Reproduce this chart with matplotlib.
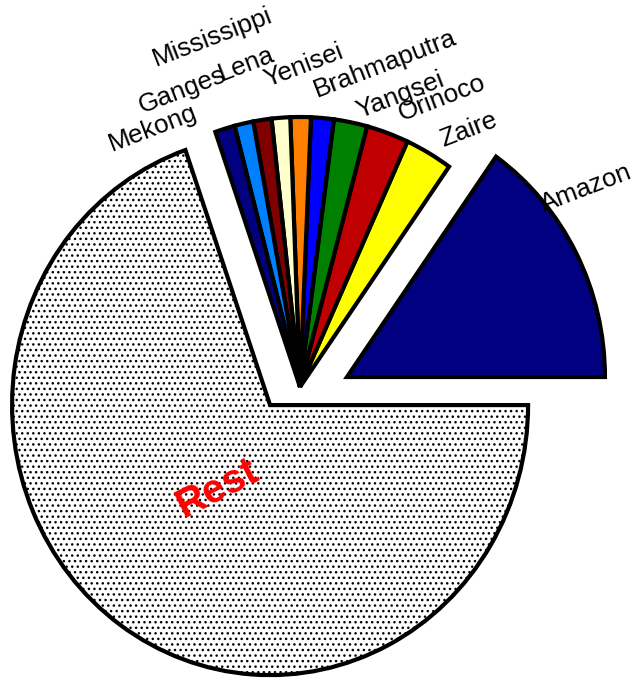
import matplotlib
matplotlib.use("Agg")
import matplotlib.pyplot as plt

plt.rcParams['font.family'] = ['Liberation Sans', 'DejaVu Sans']
plt.rcParams['hatch.color'] = '#aaaaaa'
plt.rcParams['hatch.linewidth'] = 1.0

# aandeel van de rivieren in de totale afvoer (%)
rivers = ['Amazon', 'Zaire', 'Orinoco', 'Yangsei', 'Brahmaputra', 'Yenisei',
          'Mississippi', 'Lena', 'Ganges', 'Mekong', 'Rest']
share = [15.2, 2.97, 2.65, 2.09, 1.42, 1.28, 1.16, 1.14, 1.18, 1.24, 69.7]
colors = ['#000080', '#ffff00', '#c00000', '#008000', '#0000ff', '#ff8000',
          '#ffffcc', '#800000', '#0080ff', '#000080', 'white']

# plaats van de labels (links onder van de tekst)
label_pos = {
    'Amazon': (0.946, 0.648),
    'Zaire': (0.554, 0.889),
    'Orinoco': (0.395, 0.985),
    'Yangsei': (0.233, 0.996),
    'Brahmaputra': (0.065, 1.072),
    'Yenisei': (-0.127, 1.110),
    'Mississippi': (-0.558, 1.189),
    'Lena': (-0.304, 1.133),
    'Ganges': (-0.614, 1.014),
    'Mekong': (-0.730, 0.871),
}

# middelpunten van de losgetrokken groepen
amazon_center = (0.182, 0.037)
small_center = (0.0, 0.0)
rest_center = (-0.116, -0.067)

fig = plt.figure(figsize=(6.36, 6.86), dpi=100)
ax = fig.add_axes([0, 0, 1, 1])

wedges, _ = ax.pie(share, colors=colors, startangle=0, counterclock=True,
                   radius=1.0,
                   wedgeprops=dict(edgecolor='black', linewidth=3,
                                   joinstyle='miter'))

for w, name in zip(wedges, rivers):
    if name == 'Amazon':
        w.set_center(amazon_center)
    elif name == 'Rest':
        w.set_center(rest_center)
        w.set_hatch('...')
    else:
        w.set_center(small_center)

for name, (x, y) in label_pos.items():
    ax.text(x, y, name, fontsize=18.8, rotation=21, rotation_mode='anchor',
            ha='left', va='baseline', color='black')

ax.text(-0.452, -0.485, 'Rest', fontsize=29, fontweight='bold', color='red',
        rotation=27, rotation_mode='anchor', ha='left', va='baseline')

ax.set_aspect('auto')
ax.set_xlim(-300 / 258, 336 / 258)
ax.set_ylim(-299 / 270, 387 / 270)
ax.axis('off')

fig.savefig('out.png', dpi=100)
